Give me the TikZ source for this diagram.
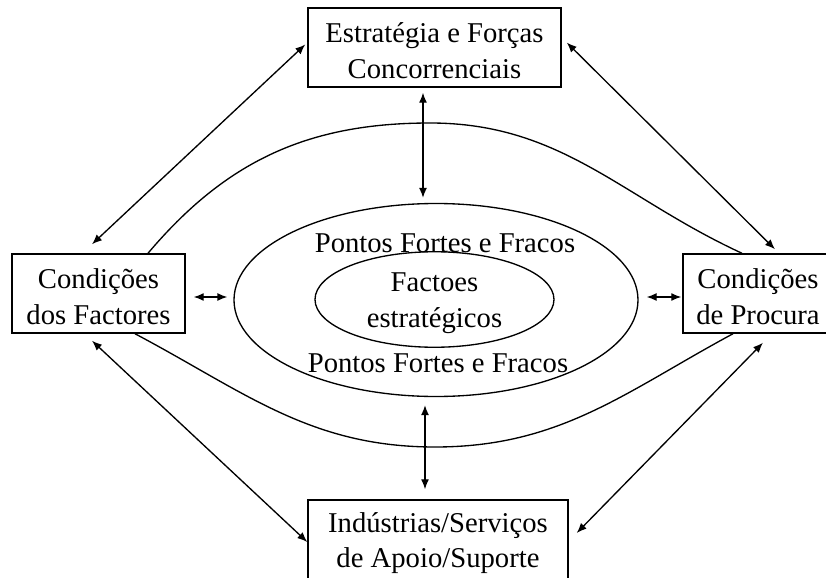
\documentclass[tikz,border=0pt]{standalone}
\usepackage{fontspec}
\setmainfont{Liberation Serif}
\usetikzlibrary{arrows.meta,shapes.geometric}
\newcommand{\espaco}{\rule{0pt}{19.5pt}}

\begin{document}
\begin{tikzpicture}[x=0.75pt,y=-0.75pt,
    every node/.style={font=\fontsize{21.5}{26.5}\selectfont, align=center, inner sep=0pt},
    caixa/.style={draw, line width=1.1pt, minimum height=59.25pt},
    elipse/.style={draw, ellipse, line width=1pt},
    seta/.style={<->, >={Latex[length=7.5pt,width=6pt]}, line width=1pt},
    curva/.style={line width=1pt}]
            \clip (0,0) rectangle (826,578);
            % caixas
            \node[caixa, minimum width=189.75pt] (estrategia) at (434.5,47.5) {\espaco Estratégia e Forças\\Concorrenciais};
            \node[caixa, minimum width=129.75pt] (factores) at (98.5,293.5) {\espaco Condições\\dos Factores};
            \node[caixa, minimum width=112.5pt] (procura) at (758,293.5) {\espaco Condições\\de Procura};
            \node[caixa, minimum width=195pt, minimum height=60pt] (apoio) at (438,540) {\espaco Indústrias/Serviços\\de Apoio/Suporte};
            % elipses
            \node[elipse, minimum width=303pt, minimum height=144.75pt] (pontos) at (436,300) {};
            \node[elipse, minimum width=179.25pt, minimum height=71.25pt] (factoes) at (434.5,299.5) {\espaco Factoes\\estratégicos};
            \node (fortes1) at (445,243) {Pontos Fortes e Fracos};
            \node (fortes2) at (438,363) {Pontos Fortes e Fracos};
            % curvas
            \draw[curva] ([shift={(49.5,0)}]factores.north) .. controls (226,161) and (308,123) .. (430,123)
                         .. controls (562,123) and (622,198) .. ([shift={(-16,0)}]procura.north);
            \draw[curva] ([shift={(36.5,0)}]factores.south) .. controls (245,392) and (310,447) .. (435,447)
                         .. controls (560,447) and (625,392) .. ([shift={(-25,0)}]procura.south);
            % setas
            \draw[seta] ([shift={(-6.5,-9)}]factores.north) -- ([shift={(-2,-3)}]estrategia.west);
            \draw[seta] ([shift={(17,-4)}]procura.north) -- ([shift={(5,-5)}]estrategia.east);
            \draw[seta] ([shift={(-11.5,5)}]estrategia.south) -- ([shift={(-13,-5)}]pontos.north);
            \draw[seta] ([shift={(-11,8)}]pontos.south) -- ([shift={(-13,-10)}]apoio.north);
            \draw[seta] ([shift={(8,3.5)}]factores.east) -- ([shift={(-6,-3)}]pontos.west);
            \draw[seta] ([shift={(8,-3)}]pontos.east) -- ([shift={(-1,3.5)}]procura.west);
            \draw[seta] ([shift={(-6.5,7)}]factores.south) -- ([shift={(0,2)}]apoio.west);
            \draw[seta] ([shift={(5,9)}]procura.south) -- ([shift={(8,-7)}]apoio.east);
\end{tikzpicture}
\end{document}
